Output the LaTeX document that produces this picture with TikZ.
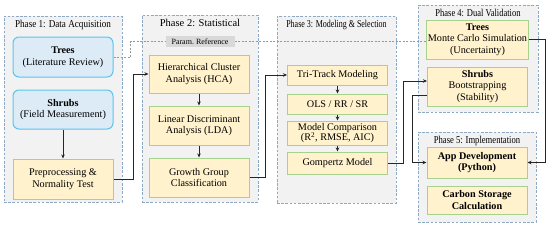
\documentclass[tikz,border=0pt]{standalone}
\usepackage{fontspec}
\setmainfont{Liberation Serif}
\usetikzlibrary{arrows.meta, positioning}
\definecolor{panelfill}{HTML}{F2F2F2}
\definecolor{panelline}{HTML}{8DA9C4}
\definecolor{srcfill}{HTML}{DDEBF7}
\definecolor{srcline}{HTML}{56C5F0}
\definecolor{procfill}{HTML}{FFF2CC}
\definecolor{procline}{HTML}{A9D18E}
\definecolor{refgray}{HTML}{D9D9D9}
\newcommand{\tightx}[2][0.8]{\scalebox{#1}[1]{#2}}
\tikzset{
  phase/.style={rectangle, draw=panelline, fill=panelfill, line width=0.9pt,
                dash pattern=on 2.6pt off 1.6pt},
  ptitle/.style={anchor=north, inner sep=1pt, font=\fontsize{10.5}{12}\selectfont},
  box/.style={rectangle, line width=1pt, minimum width=100pt, inner sep=1pt,
              align=center, font=\fontsize{10.2}{11.5}\selectfont},
  src/.style={box, draw=srcline, fill=srcfill, rounded corners=6pt},
  proc/.style={box, draw=procline, fill=procfill},
  ref/.style={rectangle, fill=refgray, minimum width=69pt, minimum height=11pt,
              inner sep=1pt, font=\fontsize{8}{9}\selectfont},
  arr/.style={-{Stealth[length=4pt, width=3.5pt]}, line width=0.8pt, black!85},
  link/.style={gray!80, line width=0.6pt, dash pattern=on 2pt off 1.5pt},
}
\begin{document}
\begin{tikzpicture}[x=1pt, y=1pt]
  \useasboundingbox (0,0) rectangle (550,-226);
  \node[phase, minimum width=118pt, minimum height=186pt] (ph1) at (63,-109) {};
  \node[phase, minimum width=116pt, minimum height=187pt] (ph2) at (200,-108.5) {};
  \node[phase, minimum width=119pt, minimum height=187pt] (ph3) at (336.5,-109.5) {};
  \node[phase, minimum width=120pt, minimum height=107pt] (ph4) at (478,-58.5) {};
  \node[phase, minimum width=118pt, minimum height=90pt] (ph5) at (477,-177) {};
  \node[ptitle] (t1) at ([yshift=-3pt]ph1.north) {\tightx[0.87]{Phase 1: Data Acquisition}};
  \node[ptitle] (t2) at ([yshift=-3pt]ph2.north) {Phase 2: Statistical};
  \node[ptitle] (t3) at ([yshift=-3pt]ph3.north) {\tightx[0.76]{Phase 3: Modeling \& Selection}};
  \node[ptitle] (t4) at ([yshift=-3pt]ph4.north) {\tightx[0.81]{Phase 4: Dual Validation}};
  \node[ptitle] (t5) at ([yshift=-3pt]ph5.north) {\tightx[0.82]{Phase 5: Implementation}};

  \node[src, minimum height=40pt] (trees) at (63,-57) {\textbf{Trees}\\(Literature Review)};
  \node[src, minimum height=39pt, below=12pt of trees] (shrubs) {\textbf{Shrubs}\\(Field Measurement)};
  \node[proc, minimum height=40pt, below=29pt of shrubs] (prep) {Preprocessing \&\\Normality Test};

  \node[ref] (param) at (200,-41.5) {Param.\ Reference};
  \node[proc, minimum height=38pt] (hca) at (199,-74) {Hierarchical Cluster\\Analysis (HCA)};
  \node[proc, minimum height=39pt, below=12pt of hca] (lda) {Linear Discriminant\\Analysis (LDA)};
  \node[proc, minimum height=39pt, below=12pt of lda] (growth) {Growth Group\\Classification};

  \node[proc, minimum height=20pt] (tri) at (337.5,-75) {Tri-Track Modeling};
  \node[proc, minimum height=20pt, below=8pt of tri] (ols) {OLS / RR / SR};
  \node[proc, minimum height=24pt, below=6pt of ols, font=\fontsize{10.2}{10.8}\selectfont] (cmp)
    {Model Comparison\\(R\textsuperscript{2}, RMSE, AIC)};
  \node[proc, minimum height=22pt, below=6pt of cmp] (gomp) {Gompertz Model};

  \node[proc, minimum height=39pt] (trees4) at (477.5,-39.5)
    {\textbf{Trees}\\Monte Carlo Simulation\\(Uncertainty)};
  \node[proc, minimum height=39pt, below=7pt of trees4] (shrubs4)
    {\textbf{Shrubs}\\Bootstrapping\\(Stability)};
  \node[proc, minimum height=31pt] (app) at (477,-162.5) {\textbf{App Development}\\\textbf{(Python)}};
  \node[proc, minimum height=28pt, below=7pt of app] (carbon) {\textbf{Carbon Storage}\\\textbf{Calculation}};

  \draw[arr] (shrubs) -- (prep);
  \draw[arr] (hca) -- (lda);
  \draw[arr] (lda) -- (growth);
  \draw[arr] (tri) -- (ols);
  \draw[arr] (ols) -- (cmp);
  \draw[arr] (cmp) -- (gomp);
  \draw[link] (trees.east) -- ++(17,0) |- (param.west);
  \draw[link] (param.east) -- (param.east -| trees4.west);
  \draw[arr] (prep.east) -- ++(20,0) |- (hca.west);
  \draw[arr] (growth.east) -- ++(16,0) |- (tri.west);
  \draw[arr] (gomp.east) -- ++(15,0) |- ([yshift=5.5pt]shrubs4.west);
  \draw[arr] ([yshift=-8.5pt]shrubs4.west) -- ++(-15,0) |- (app.west);
  \draw[arr] (trees4.east) -- ++(17,0) |- (app.east);
\end{tikzpicture}
\end{document}
